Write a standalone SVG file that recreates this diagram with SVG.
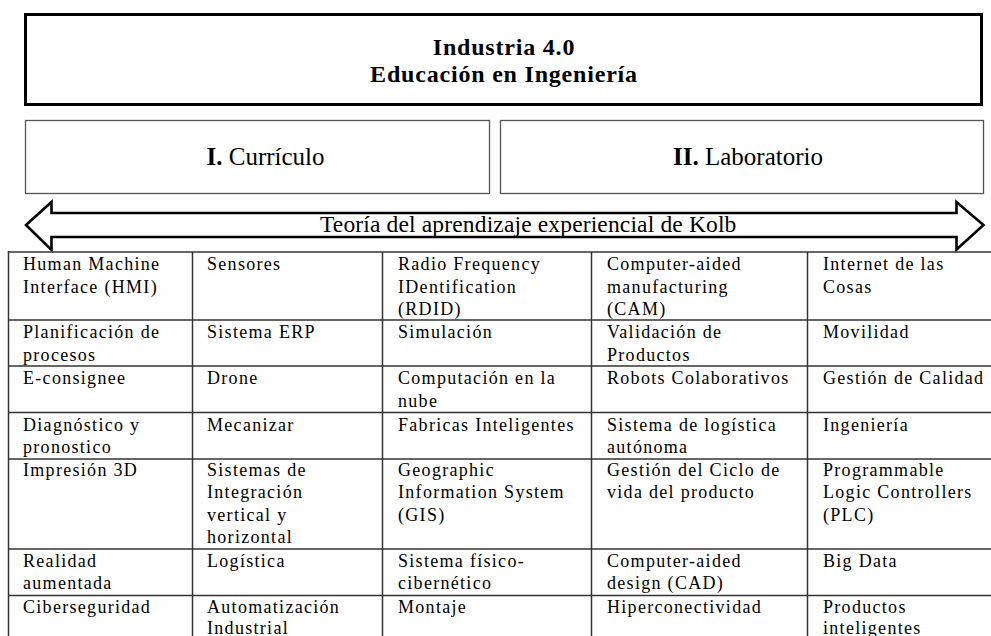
<svg xmlns="http://www.w3.org/2000/svg" width="991" height="636" viewBox="0 0 991 636">
<style>
.bg{fill:#ffffff}
.title{font-family:"Liberation Serif","Times New Roman",serif;font-size:24px;font-weight:bold;letter-spacing:0.8px;fill:#000;text-anchor:middle}
.sec{font-family:"Liberation Serif","Times New Roman",serif;font-size:25px;fill:#000}
.sec .b{font-weight:bold}
.kolb{font-family:"Liberation Serif","Times New Roman",serif;font-size:23.5px;letter-spacing:0.15px;fill:#000}
.cell{font-family:"Liberation Serif","Times New Roman",serif;font-size:18px;letter-spacing:1.3px;fill:#000}
.grid{stroke:#333;stroke-width:1.5;fill:none}
.box{fill:#fff;stroke:#555;stroke-width:1.3}
</style>
<rect class="bg" x="0" y="0" width="991" height="636"/>

<g id="header">
  <rect x="25.5" y="14.5" width="956" height="90" fill="#fff" stroke="#000" stroke-width="3"/>
  <text class="title" x="504" y="55">Industria 4.0</text>
  <text class="title" x="504" y="82">Educación en Ingeniería</text>
</g>

<g id="curriculo">
  <rect class="box" x="25.5" y="120.5" width="464" height="73"/>
  <text class="sec" x="206.5" y="165"><tspan class="b">I.</tspan> Currículo</text>
</g>

<g id="laboratorio">
  <rect class="box" x="500.5" y="120.5" width="483" height="73"/>
  <text class="sec" x="673" y="165"><tspan class="b">II.</tspan> Laboratorio</text>
</g>

<g id="connectors">
  <path d="M26,225 L51.5,202 L51.5,213 L956.5,213 L956.5,202 L983.5,225 L956.5,249.5 L956.5,237 L51.5,237 L51.5,250 Z" fill="#fff" stroke="#000" stroke-width="2.6" stroke-linejoin="miter"/>
</g>
<g id="kolb">
  <text class="kolb" x="320" y="231.5">Teoría del aprendizaje experiencial de Kolb</text>
</g>

<g id="table">
  <g class="grid">
    <line x1="8" y1="252" x2="991" y2="252"/>
    <line x1="8" y1="320" x2="991" y2="320"/>
    <line x1="8" y1="366" x2="991" y2="366"/>
    <line x1="8" y1="412.5" x2="991" y2="412.5"/>
    <line x1="8" y1="459" x2="991" y2="459"/>
    <line x1="8" y1="549" x2="991" y2="549"/>
    <line x1="8" y1="595.5" x2="991" y2="595.5"/>
    <line x1="8.5" y1="251" x2="8.5" y2="636"/>
    <line x1="192.5" y1="252" x2="192.5" y2="636"/>
    <line x1="382.5" y1="252" x2="382.5" y2="636"/>
    <line x1="591.5" y1="252" x2="591.5" y2="636"/>
    <line x1="807.5" y1="252" x2="807.5" y2="636"/>
  </g>

  <g id="r1c1"><text class="cell" x="23" y="270">Human Machine</text><text class="cell" x="23" y="292.5">Interface (HMI)</text></g>
  <g id="r1c2"><text class="cell" x="207" y="270">Sensores</text></g>
  <g id="r1c3"><text class="cell" x="398" y="270">Radio Frequency</text><text class="cell" x="398" y="292.5">IDentification</text><text class="cell" x="398" y="315">(RDID)</text></g>
  <g id="r1c4"><text class="cell" x="607" y="270">Computer-aided</text><text class="cell" x="607" y="292.5">manufacturing</text><text class="cell" x="607" y="315">(CAM)</text></g>
  <g id="r1c5"><text class="cell" x="823" y="270">Internet de las</text><text class="cell" x="823" y="292.5">Cosas</text></g>

  <g id="r2c1"><text class="cell" x="23" y="338.3">Planificación de</text><text class="cell" x="23" y="360.7">procesos</text></g>
  <g id="r2c2"><text class="cell" x="207" y="338.3">Sistema ERP</text></g>
  <g id="r2c3"><text class="cell" x="398" y="338.3">Simulación</text></g>
  <g id="r2c4"><text class="cell" x="607" y="338.3">Validación de</text><text class="cell" x="607" y="360.7">Productos</text></g>
  <g id="r2c5"><text class="cell" x="823" y="338.3">Movilidad</text></g>

  <g id="r3c1"><text class="cell" x="23" y="384">E-consignee</text></g>
  <g id="r3c2"><text class="cell" x="207" y="384">Drone</text></g>
  <g id="r3c3"><text class="cell" x="398" y="384">Computación en la</text><text class="cell" x="398" y="406.5">nube</text></g>
  <g id="r3c4"><text class="cell" x="607" y="384">Robots Colaborativos</text></g>
  <g id="r3c5"><text class="cell" x="823" y="384">Gestión de Calidad</text></g>

  <g id="r4c1"><text class="cell" x="23" y="430.7">Diagnóstico y</text><text class="cell" x="23" y="453">pronostico</text></g>
  <g id="r4c2"><text class="cell" x="207" y="430.7">Mecanizar</text></g>
  <g id="r4c3"><text class="cell" x="398" y="430.7">Fabricas Inteligentes</text></g>
  <g id="r4c4"><text class="cell" x="607" y="430.7">Sistema de logística</text><text class="cell" x="607" y="453">autónoma</text></g>
  <g id="r4c5"><text class="cell" x="823" y="430.7">Ingeniería</text></g>

  <g id="r5c1"><text class="cell" x="23" y="476">Impresión 3D</text></g>
  <g id="r5c2"><text class="cell" x="207" y="476">Sistemas de</text><text class="cell" x="207" y="498.3">Integración</text><text class="cell" x="207" y="521">vertical y</text><text class="cell" x="207" y="543.3">horizontal</text></g>
  <g id="r5c3"><text class="cell" x="398" y="476">Geographic</text><text class="cell" x="398" y="498.3">Information System</text><text class="cell" x="398" y="521">(GIS)</text></g>
  <g id="r5c4"><text class="cell" x="607" y="476">Gestión del Ciclo de</text><text class="cell" x="607" y="498.3">vida del producto</text></g>
  <g id="r5c5"><text class="cell" x="823" y="476">Programmable</text><text class="cell" x="823" y="498.3">Logic Controllers</text><text class="cell" x="823" y="521">(PLC)</text></g>

  <g id="r6c1"><text class="cell" x="23" y="566.7">Realidad</text><text class="cell" x="23" y="589">aumentada</text></g>
  <g id="r6c2"><text class="cell" x="207" y="566.7">Logística</text></g>
  <g id="r6c3"><text class="cell" x="398" y="566.7">Sistema físico-</text><text class="cell" x="398" y="589">cibernético</text></g>
  <g id="r6c4"><text class="cell" x="607" y="566.7">Computer-aided</text><text class="cell" x="607" y="589">design (CAD)</text></g>
  <g id="r6c5"><text class="cell" x="823" y="566.7">Big Data</text></g>

  <g id="r7c1"><text class="cell" x="23" y="612.7">Ciberseguridad</text></g>
  <g id="r7c2"><text class="cell" x="207" y="612.7">Automatización</text><text class="cell" x="207" y="634.3">Industrial</text></g>
  <g id="r7c3"><text class="cell" x="398" y="612.7">Montaje</text></g>
  <g id="r7c4"><text class="cell" x="607" y="612.7">Hiperconectividad</text></g>
  <g id="r7c5"><text class="cell" x="823" y="612.7">Productos</text><text class="cell" x="823" y="634.3">inteligentes</text></g>
</g>
</svg>
